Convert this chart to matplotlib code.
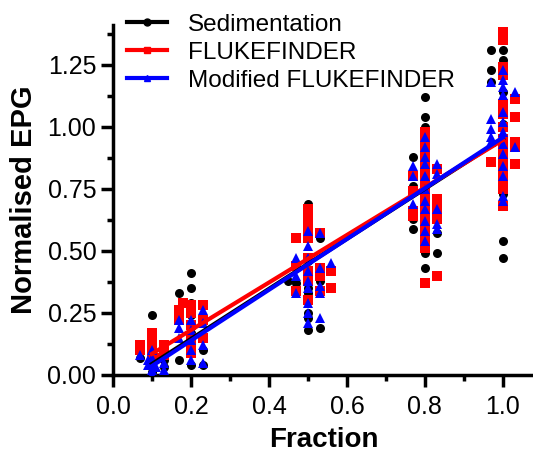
import numpy as np
import matplotlib.pyplot as plt
from matplotlib.ticker import MultipleLocator

plt.rcParams['font.family'] = ['Liberation Sans', 'DejaVu Sans']

# Sedimentation (x position of each point, normalised EPG)
sed_x = [0.1, 0.1, 0.1, 0.1, 0.1, 0.1, 0.1, 0.07, 0.13, 0.13,
         0.2, 0.2, 0.17, 0.2, 0.2, 0.2, 0.2, 0.17, 0.2, 0.23, 0.23,
         0.5, 0.5, 0.5, 0.5, 0.5, 0.5, 0.5, 0.5, 0.5, 0.5, 0.53, 0.53, 0.53, 0.53, 0.47, 0.47, 0.45,
         0.8, 0.8, 0.8, 0.8, 0.8, 0.8, 0.8, 0.8, 0.8, 0.77, 0.77, 0.77, 0.77, 0.83, 0.83, 0.83,
         1.0, 1.0, 1.0, 1.0, 1.0, 1.0, 1.0, 1.0, 1.0, 1.0, 1.0, 1.0, 1.0, 0.97, 0.97, 0.97]
sed_y = [0.24, 0.15, 0.10, 0.07, 0.05, 0.03, 0.01, 0.07, 0.03, 0.06,
         0.41, 0.35, 0.33, 0.29, 0.24, 0.17, 0.10, 0.06, 0.04, 0.04, 0.10,
         0.69, 0.55, 0.46, 0.42, 0.38, 0.35, 0.33, 0.25, 0.23, 0.18, 0.55, 0.43, 0.38, 0.19, 0.37, 0.35, 0.38,
         1.12, 1.04, 1.00, 0.97, 0.75, 0.60, 0.58, 0.49, 0.43, 0.88, 0.76, 0.63, 0.59, 0.65, 0.57, 0.49,
         1.36, 1.31, 1.27, 1.21, 1.14, 1.07, 1.01, 0.94, 0.87, 0.80, 0.73, 0.54, 0.47, 1.31, 1.23, 1.18]

# FLUKEFINDER
ff_x = [0.07, 0.07, 0.1, 0.1, 0.1, 0.1, 0.13, 0.13, 0.13, 0.11,
        0.17, 0.17, 0.18, 0.2, 0.2, 0.2, 0.2, 0.2, 0.2, 0.23, 0.23, 0.23,
        0.5, 0.5, 0.5, 0.5, 0.5, 0.5, 0.5, 0.5, 0.5, 0.47, 0.47, 0.47, 0.53, 0.53, 0.53, 0.53, 0.56, 0.56,
        0.8, 0.8, 0.8, 0.8, 0.8, 0.8, 0.8, 0.8, 0.8, 0.8, 0.8, 0.8, 0.8, 0.8,
        0.77, 0.77, 0.77, 0.77, 0.83, 0.83, 0.83, 0.83, 0.83, 0.83,
        1.0, 1.0, 1.0, 1.0, 1.0, 1.0, 1.0, 1.0, 1.0, 1.0, 1.0, 1.0, 1.0, 1.0,
        0.97, 1.03, 1.03, 1.03, 1.03, 1.03]
ff_y = [0.12, 0.10, 0.17, 0.15, 0.12, 0.09, 0.12, 0.10, 0.08, 0.07,
        0.26, 0.22, 0.29, 0.28, 0.25, 0.20, 0.15, 0.09, 0.11, 0.28, 0.22, 0.15,
        0.67, 0.65, 0.62, 0.59, 0.55, 0.47, 0.42, 0.38, 0.30, 0.55, 0.34, 0.44, 0.57, 0.43, 0.40, 0.34, 0.42, 0.35,
        0.98, 0.94, 0.90, 0.86, 0.82, 0.78, 0.74, 0.70, 0.66, 0.62, 0.58, 0.54, 0.51, 0.37,
        0.80, 0.74, 0.66, 0.64, 0.83, 0.71, 0.69, 0.65, 0.63, 0.40,
        1.38, 1.35, 1.24, 1.21, 1.09, 1.05, 1.00, 0.95, 0.91, 0.87, 0.83, 0.79, 0.75, 0.68,
        0.86, 1.11, 1.04, 0.94, 0.92, 0.85]

# Modified FLUKEFINDER
mff_x = [0.07, 0.09, 0.09, 0.1, 0.1, 0.1, 0.1, 0.1, 0.13, 0.13, 0.11,
         0.17, 0.17, 0.17, 0.2, 0.2, 0.2, 0.2, 0.2, 0.23, 0.23, 0.23, 0.23,
         0.5, 0.5, 0.5, 0.5, 0.5, 0.5, 0.5, 0.5, 0.5, 0.47, 0.47, 0.47,
         0.53, 0.53, 0.53, 0.53, 0.53, 0.56,
         0.8, 0.8, 0.8, 0.8, 0.8, 0.8, 0.8, 0.8, 0.8, 0.8, 0.8,
         0.77, 0.77, 0.77, 0.83, 0.83, 0.83, 0.83, 0.83,
         1.0, 1.0, 1.0, 1.0, 1.0, 1.0, 1.0, 1.0, 1.0, 1.0, 1.0, 1.0, 1.0,
         0.97, 0.97, 0.97, 0.97, 0.97, 1.03, 1.03]
mff_y = [0.08, 0.06, 0.04, 0.10, 0.07, 0.04, 0.02, 0.00, 0.05, 0.02, 0.03,
         0.22, 0.19, 0.15, 0.22, 0.18, 0.14, 0.10, 0.06, 0.26, 0.21, 0.12, 0.05,
         0.58, 0.52, 0.47, 0.42, 0.38, 0.35, 0.29, 0.25, 0.21, 0.47, 0.40, 0.33,
         0.57, 0.43, 0.36, 0.33, 0.23, 0.45,
         0.96, 0.92, 0.88, 0.85, 0.80, 0.75, 0.70, 0.67, 0.62, 0.58, 0.54,
         0.84, 0.80, 0.69, 0.85, 0.81, 0.67, 0.61, 0.59,
         1.23, 1.19, 1.16, 1.13, 1.06, 1.02, 0.98, 0.93, 0.89, 0.84, 0.80, 0.72, 0.70,
         1.18, 1.03, 0.99, 0.96, 0.94, 1.14, 0.92]

# regression lines (ends at fraction 0.1 and 1.0)
fit_x = [0.1, 1.0]
sed_fit = [0.044, 0.952]
ff_fit = [0.085, 0.947]
mff_fit = [0.036, 0.957]

fig = plt.figure(figsize=(5.33, 4.55), dpi=100)
# axes: x from 0 to 1.08, y from 0 to 1.41
ax = fig.add_axes([0.212, 0.176, 0.79, 0.769])

ms = 6.5
ax.plot(sed_x, sed_y, 'o', color='black', ms=ms, mew=0, zorder=3)
ax.plot(ff_x, ff_y, 's', color='#ff0000', ms=ms, mew=0, zorder=4)
ax.plot(mff_x, mff_y, '^', color='#0000ff', ms=ms, mew=0, zorder=5)

ax.plot(fit_x, sed_fit, '-', color='black', lw=3, zorder=6)
ax.plot(fit_x, ff_fit, '-', color='#ff0000', lw=3, zorder=6)
ax.plot(fit_x, mff_fit, '-', color='#0000ff', lw=3, zorder=7)

# legend handles
h1, = ax.plot([], [], '-o', color='black', lw=3, ms=5)
h2, = ax.plot([], [], '-s', color='#ff0000', lw=3, ms=5)
h3, = ax.plot([], [], '-^', color='#0000ff', lw=3, ms=5)
fig.legend([h1, h2, h3], ['Sedimentation', 'FLUKEFINDER', 'Modified FLUKEFINDER'],
           loc='upper left', bbox_to_anchor=(0.223, 0.988), frameon=False,
           fontsize=17.5, handlelength=1.65, handletextpad=0.85, labelspacing=0.24,
           borderaxespad=0.15, borderpad=0.2)

ax.set_xlim(0, 1.08)
ax.set_ylim(0, 1.41)
ax.xaxis.set_major_locator(MultipleLocator(0.2))
ax.xaxis.set_minor_locator(MultipleLocator(0.1))
ax.yaxis.set_major_locator(MultipleLocator(0.25))
ax.yaxis.set_minor_locator(MultipleLocator(0.125))
ax.xaxis.set_major_formatter(plt.FormatStrFormatter('%.1f'))
ax.yaxis.set_major_formatter(plt.FormatStrFormatter('%.2f'))

for s in ['top', 'right']:
    ax.spines[s].set_visible(False)
for s in ['left', 'bottom']:
    ax.spines[s].set_linewidth(2.5)
ax.tick_params(which='both', width=2.5, direction='out', labelsize=18)
ax.tick_params(which='major', length=8.5)
ax.tick_params(axis='x', which='major', pad=6)
ax.tick_params(axis='y', which='major', pad=3.5)
ax.tick_params(which='minor', length=4.5)

ax.set_xlabel('Fraction', fontsize=20, fontweight='bold', labelpad=6)
ax.set_ylabel('Normalised EPG', fontsize=21, fontweight='bold', labelpad=7)

fig.savefig('out.png', dpi=100)
